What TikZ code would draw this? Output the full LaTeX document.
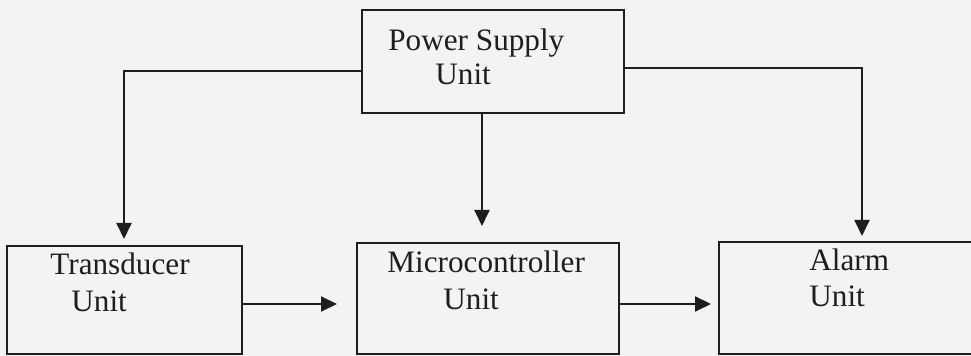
\documentclass[tikz,border=0pt]{standalone}
\usepackage{fontspec}
\setmainfont{Liberation Serif}
\usetikzlibrary{arrows.meta}
\definecolor{paper}{RGB}{243,243,241}
\definecolor{ink}{RGB}{30,30,30}
\tikzset{
  blockbox/.style={draw=ink, line width=1pt, inner sep=0pt, fill=none},
  conn/.style={draw=ink, line width=1pt},
  arr/.style={conn, -{Triangle[length=8pt,width=7.5pt]}},
  lbl/.style={anchor=base west, inner sep=0pt, text=ink, font=\fontsize{15.6}{18}\selectfont}
}
\begin{document}
\begin{tikzpicture}[x=0.5pt, y=-0.5pt]
\useasboundingbox (0,0) rectangle (971,356);
\fill[paper] (0,0) rectangle (971,356);
\clip (0,0) rectangle (971,356);
% boxes
\node[blockbox, minimum width=131pt, minimum height=51.5pt] (ps) at (493,61.5) {};
\node[blockbox, minimum width=117.5pt, minimum height=54pt] (tr) at (124.5,300) {};
\node[blockbox, minimum width=131pt, minimum height=55.5pt] (mc) at (488,298.5) {};
\node[blockbox, minimum width=128pt, minimum height=56pt] (al) at (847,298) {};
% texts
\node[lbl] (psA) at (388,51) {Power Supply};
\node[lbl] (psB) at (435,85) {Unit};
\node[lbl] (trA) at (50,275) {Transducer};
\node[lbl] (trB) at (71,312) {Unit};
\node[lbl] (mcA) at (387,273) {Microcontroller};
\node[lbl] (mcB) at (443,310) {Unit};
\node[lbl] (alA) at (809,271) {Alarm};
\node[lbl] (alB) at (809,307) {Unit};
% connectors
\draw[arr, shorten >=3pt] (ps.west |- 0,71) -| (tr.north -| 124,0);
\draw[arr, shorten >=8pt] (ps.south -| 482,0) -- (mc.north -| 482,0);
\draw[arr, shorten >=2.5pt] (ps.east |- 0,68) -| (al.north -| 862,0);
\draw[arr, shorten >=9.5pt] (tr.east |- 0,304) -- (mc.west |- 0,304);
\draw[arr, shorten >=3.5pt] (mc.east |- 0,304) -- (al.west |- 0,304);
\end{tikzpicture}
\end{document}
